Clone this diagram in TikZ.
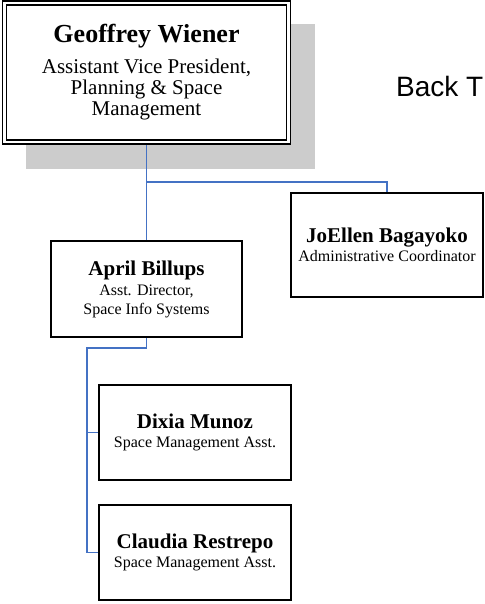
\documentclass[tikz,border=0pt]{standalone}
\usepackage{fontspec}
\setmainfont{Liberation Serif}
\newfontfamily\linkfont{Liberation Sans}
\definecolor{linkblue}{RGB}{68,114,196}
\definecolor{shadowgray}{RGB}{204,204,204}
\tikzstyle{headbox} = [rectangle, draw=black, fill=white, line width=1.7pt, double=white, double distance=2.3pt, align=center, inner sep=0pt, outer sep=2.85pt, minimum width=284pt, minimum height=139pt, font=\headrole]
\tikzstyle{personbox} = [rectangle, draw=black, fill=white, line width=1.5pt, align=center, inner sep=0pt, minimum width=192pt, minimum height=95pt, font=\staffrole]
\tikzstyle{connector} = [draw=linkblue, line width=1.5pt]
\newcommand{\headname}{\bfseries\fontsize{26}{30}\selectfont}
\newcommand{\headrole}{\fontsize{21}{21}\selectfont}
\newcommand{\staffname}{\bfseries\fontsize{21}{21}\selectfont}
\newcommand{\staffrole}{\fontsize{16}{19}\selectfont}

\begin{document}
\begin{tikzpicture}[x=1pt, y=-1pt]
	\useasboundingbox (0,0) rectangle (484,604);
	\fill[shadowgray] (26,24) rectangle (315,169);
	\node (wiener) at (146.5, 72.5) [headbox] {{\headname Geoffrey Wiener}\\[10pt] Assistant Vice President,\\ Planning \& Space\\ Management};
	\node (backlink) at (396, 97) [anchor=base west, inner sep=0pt, font=\linkfont\fontsize{28}{30}\selectfont] {Back T};
	\node (joellen) at (387, 245) [personbox, minimum height=104pt] {{\staffname JoEllen Bagayoko}\\ Administrative Coordinator};
	\node (april) at (146.5, 289) [personbox, minimum width=191pt, minimum height=96pt] {{\staffname April Billups}\\[1pt] Asst. Director,\\ Space Info Systems};
	\node (dixia) at (195, 432.5) [personbox] {{\staffname Dixia Munoz}\\ Space Management Asst.};
	\node (claudia) at (195, 552.5) [personbox] {{\staffname Claudia Restrepo}\\ Space Management Asst.};
	\coordinate (headbus) at (146.5, 182);
	\coordinate (aprilbus) at (87, 348);
	\draw[connector] (wiener.south) -- (april.north);
	\draw[connector] (headbus) -| (joellen.north);
	\draw[connector] (april.south) |- (aprilbus) |- (claudia.west);
	\draw[connector] (aprilbus) |- (dixia.west);
\end{tikzpicture}
\end{document}
